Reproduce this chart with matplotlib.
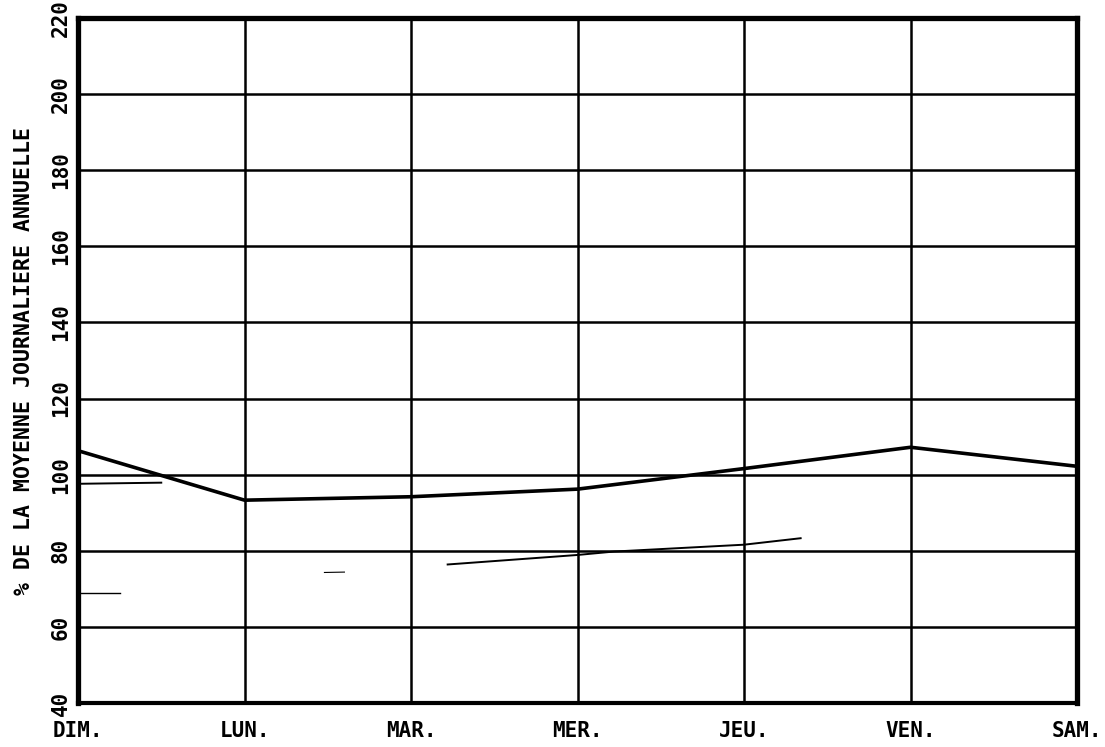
import matplotlib.pyplot as plt
import numpy as np

# Days of the week (x categories) and y axis ticks
days = ["DIM.", "LUN.", "MAR.", "MER.", "JEU.", "VEN.", "SAM."]
y_ticks = [40, 60, 80, 100, 120, 140, 160, 180, 200, 220]

# Main curve: % of annual daily mean for each day
main_values = [106.3, 93.3, 94.2, 96.2, 101.6, 107.2, 102.2]

# Faint fragments of a second curve (x given as day position)
frag_a_x = [0.0, 0.5]
frag_a_y = [97.6, 97.9]
frag_b_x = [0.0, 0.25]
frag_b_y = [69.0, 69.0]
frag_c_x = [1.48, 1.6]
frag_c_y = [74.3, 74.4]
frag_d_x = [2.22, 3.0, 3.22, 4.0, 4.34]
frag_d_y = [76.4, 78.9, 79.8, 81.6, 83.3]

plt.rcParams['font.family'] = ['DejaVu Sans Mono', 'DejaVu Sans']

fig = plt.figure(figsize=(11.05, 7.47), dpi=100)
ax = fig.add_axes([0.0706, 0.0589, 0.9041, 0.9170])

x = np.arange(len(days))

# Black grid like the plotter chart
ax.grid(True, color='black', linewidth=1.8)
ax.set_axisbelow(True)

ax.plot(x, main_values, color='black', linewidth=2.6)
ax.plot(frag_a_x, frag_a_y, color='black', linewidth=1.4)
ax.plot(frag_b_x, frag_b_y, color='black', linewidth=1.0)
ax.plot(frag_c_x, frag_c_y, color='black', linewidth=0.8)
ax.plot(frag_d_x, frag_d_y, color='black', linewidth=1.4)

ax.set_xlim(0, len(days) - 1)
ax.set_ylim(40, 220)
ax.set_xticks(x)
ax.set_xticklabels(days, fontsize=15, fontweight='bold')
ax.set_yticks(y_ticks)
ax.set_yticklabels([str(v) for v in y_ticks], fontsize=15, fontweight='bold',
                   rotation=90, va='center')
ax.tick_params(axis='both', length=0)
ax.tick_params(axis='x', pad=13)
ax.tick_params(axis='y', pad=5)

ax.set_ylabel("% DE LA MOYENNE JOURNALIERE ANNUELLE", fontsize=15.5,
              fontweight='bold', labelpad=12)

for side in ['left', 'top', 'right']:
    ax.spines[side].set_linewidth(3.8)
ax.spines['bottom'].set_linewidth(3.0)

fig.savefig("out.png", dpi=100)
